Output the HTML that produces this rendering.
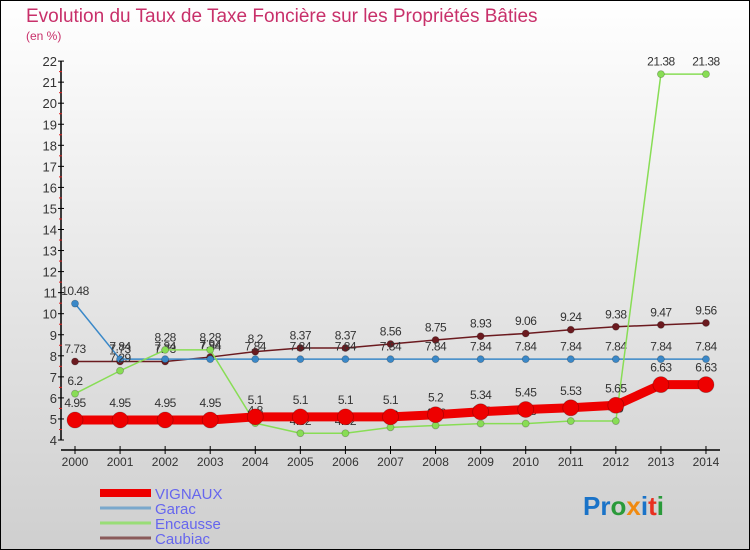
<!DOCTYPE html>
<html><head><meta charset="utf-8">
<style>
body{margin:0;padding:0;}
#wrap{width:750px;height:550px;position:relative;overflow:hidden;}
svg{display:block;font-family:"Liberation Sans",sans-serif;}
</style></head>
<body>
<div id="wrap">
<svg id="chart" width="750" height="550" viewBox="0 0 750 550">
<defs>
<linearGradient id="bg" x1="0" y1="0" x2="0" y2="1">
<stop offset="0" stop-color="#ffffff"/><stop offset="1" stop-color="#cfcfcf"/>
</linearGradient>
</defs>
<rect x="0.5" y="0.5" width="749" height="549" fill="url(#bg)" stroke="#000"/>
<text x="26" y="22" font-size="19" fill="#c8306a">Evolution du Taux de Taxe Foncière sur les Propriétés Bâties</text>
<text x="26" y="40" font-size="12" fill="#c8306a">(en %)</text>
<g id="axes"></g>
<g id="series"></g>
<g id="legend"></g>
<text x="583" y="515" font-size="26" font-weight="bold"><tspan fill="#1a73c8">Pr</tspan><tspan fill="#2a9a3a">o</tspan><tspan fill="#f08a10">x</tspan><tspan fill="#1a73c8">i</tspan><tspan fill="#e83020">t</tspan><tspan fill="#2a9a3a">i</tspan></text>
</svg>
</div>
<script>
const years = [2000,2001,2002,2003,2004,2005,2006,2007,2008,2009,2010,2011,2012,2013,2014];
const yTicks = [4,5,6,7,8,9,10,11,12,13,14,15,16,17,18,19,20,21,22];
const vignaux = [4.95,4.95,4.95,4.95,5.1,5.1,5.1,5.1,5.2,5.34,5.45,5.53,5.65,6.63,6.63];
const garac = [10.48,7.84,7.84,7.84,7.84,7.84,7.84,7.84,7.84,7.84,7.84,7.84,7.84,7.84,7.84];
const encausse = [6.2,7.29,8.28,8.28,4.8,4.32,4.32,4.6,4.69,4.78,4.78,4.9,4.9,21.38,21.38];
const caubiac = [7.73,7.73,7.73,7.94,8.2,8.37,8.37,8.56,8.75,8.93,9.06,9.24,9.38,9.47,9.56];

const NS = "http://www.w3.org/2000/svg";
const X0 = 75, DX = 45.07, Y0 = 440, DY = 21.05, YMIN = 4;
function xs(i){ return X0 + i*DX; }
function ys(v){ return Y0 - (v-YMIN)*DY; }
function mk(tag, attrs, parent){
  const e = document.createElementNS(NS, tag);
  for (const k in attrs) e.setAttribute(k, attrs[k]);
  parent.appendChild(e); return e;
}
const axes = document.getElementById('axes');
const yAxis = mk('line',{x1:61,y1:ys(22),x2:61,y2:ys(4),stroke:'#000','stroke-width':1.5},axes);


yTicks.forEach(v=>{
  const t = mk('line',{x1:58,y1:ys(v),x2:64,y2:ys(v),stroke:'#000'},axes);
  
  
  const l = mk('text',{x:57,y:ys(v)+5,'font-size':13,fill:'#333','text-anchor':'end'},axes);
  l.textContent = v;
  
  
  if (v<22){
    const m = mk('line',{x1:59,y1:ys(v+0.5),x2:62,y2:ys(v+0.5),stroke:'#e02020'},axes);
    
    
  }
});
const xAxis = mk('line',{x1:61,y1:450,x2:720,y2:450,stroke:'#000','stroke-width':1.5},axes);


years.forEach((yr,i)=>{
  const t = mk('line',{x1:xs(i),y1:446,x2:xs(i),y2:454,stroke:'#000'},axes);
  
  
  const l = mk('text',{x:xs(i),y:466,'font-size':12,fill:'#333','text-anchor':'middle'},axes);
  l.textContent = yr;
  
  
});

const sg = document.getElementById('series');
function drawSeries(vals, color, width, r, name){
  const g = mk('g',{},sg);
  
  
  const pts = vals.map((v,i)=>xs(i)+','+ys(v)).join(' ');
  const pl = mk('polyline',{points:pts,fill:'none',stroke:color,'stroke-width':width,'stroke-linejoin':'round'},g);
  
  
  vals.forEach((v,i)=>{
    const c = mk('circle',{cx:xs(i),cy:ys(v),r:r,fill:color,stroke:'rgba(0,0,0,0.25)','stroke-width':0.8},g);
    
    
    const t = mk('text',{x:xs(i),y:ys(v)-(r+5),'font-size':12,fill:'#333','text-anchor':'middle','letter-spacing':'-0.5'},g);
    t.textContent = v;
    
    
  });
}
drawSeries(caubiac,'#6b1a1f',1.5,3.5,'caubiac');
drawSeries(garac,'#3a88c8',1.5,3.5,'garac');
drawSeries(encausse,'#88dd55',1.5,3.5,'encausse');
drawSeries(vignaux,'#ee0000',9,8,'vignaux');

const lg = document.getElementById('legend');
const legItems = [['VIGNAUX','#ee0000',8],['Garac','#7aa8cc',3],['Encausse','#99dd77',3],['Caubiac','#8a5a5a',3]];
legItems.forEach((it,i)=>{
  const y = 493 + i*15;
  const g = mk('g',{},lg);
  
  
  mk('line',{x1:100,y1:y,x2:151,y2:y,stroke:it[1],'stroke-width':it[2]},g);
  const t = mk('text',{x:155,y:y+6,'font-size':15,fill:'#6666ee'},g);
  t.textContent = it[0];
});
</script>
</body></html>
